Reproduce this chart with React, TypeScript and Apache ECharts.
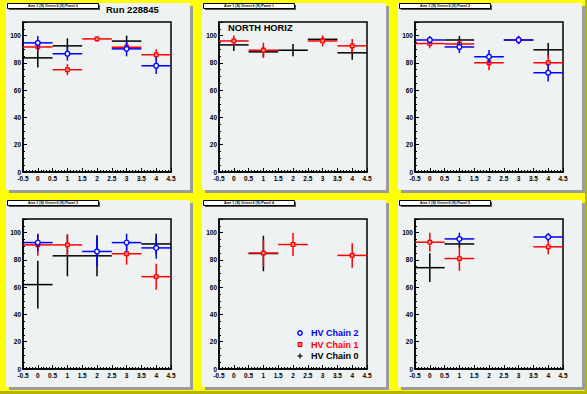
import React, { useEffect, useRef } from "react";
import * as echarts from "echarts";

const bins = [0, 1, 2, 3, 4];
const panelTitles = [
  "Arm 1 (S) Orient 6 (S) Panel 0",
  "Arm 1 (S) Orient 6 (S) Panel 1",
  "Arm 1 (S) Orient 6 (S) Panel 2",
  "Arm 1 (S) Orient 6 (S) Panel 3",
  "Arm 1 (S) Orient 6 (S) Panel 4",
  "Arm 1 (S) Orient 6 (S) Panel 5",
];
const seriesNames = ["HV Chain 2", "HV Chain 1", "HV Chain 0"];
const runLabel = "Run 228845";
const sideLabel = "NORTH HORIZ";
const yTicks = [0, 20, 40, 60, 80, 100];
const xTicks = [-0.5, 0, 0.5, 1, 1.5, 2, 2.5, 3, 3.5, 4, 4.5];

const chain2Values: (number | null)[][] = [
  [94.7, 86.7, null, 90.3, 77.9],
  [null, null, null, null, null],
  [96.8, 91.7, 84.5, 96.8, 72.8],
  [92.7, null, 86.2, 92.7, 88.8],
  [null, null, null, null, null],
  [null, 95.4, null, null, 96.8],
];
const chain2Errors: number[][] = [
  [5, 5, 0, 5.5, 6],
  [0, 0, 0, 0, 0],
  [3, 4.5, 5, 3, 6.5],
  [6.5, 0, 11, 6.5, 8],
  [0, 0, 0, 0, 0],
  [0, 4.5, 0, 0, 3],
];
const chain1Values: (number | null)[][] = [
  [91.7, 75, 97.6, 91.5, 86],
  [96.1, 89.3, null, 96.1, 92.5],
  [94.2, 93.9, 80.1, 96.8, 80.1],
  [91, 91, null, 84.5, 67.7],
  [null, 85, 91.3, null, 83.3],
  [93, 81, null, null, 89.6],
];
const chain1Errors: number[][] = [
  [3, 4, 2, 3, 4],
  [4, 5.5, 0, 4, 5],
  [3.5, 3, 5.5, 3, 6],
  [8, 8, 0, 8, 9.5],
  [0, 10, 8.5, 0, 9],
  [7, 9, 0, 0, 5.5],
];
const chain0Values: (number | null)[][] = [
  [83.7, 92.5, null, 96, null],
  [93.2, 88.1, 89.3, 97.3, 87.4],
  [null, 96.8, null, null, 89.6],
  [61.9, 83, 83, null, 91.7],
  [null, 84.7, null, null, null],
  [74.3, 91.7, null, null, null],
];
const chain0Errors: number[][] = [
  [7, 5.5, 0, 4, 0],
  [4.5, 4, 4.5, 2, 5],
  [0, 3, 0, 0, 5],
  [17.5, 15, 15, 0, 7.5],
  [0, 13, 0, 0, 0],
  [10.5, 3, 0, 0, 0],
];

const PAD_BG = "#eef2f2";
const YELLOW = "#ffff00";
const FONT = "Liberation Sans, Arial, Helvetica, sans-serif";
const padX = [0, 196, 392];
const padY = [0, 197];

function makeRender(kind: number) {
  const color = kind === 2 ? "#0000ff" : kind === 1 ? "#ff0000" : "#000000";
  return (params: any, api: any) => {
    const x = api.value(0);
    const y = api.value(1);
    const e = api.value(2);
    const c = api.coord([x, y]);
    const l = api.coord([x - 0.5, y]);
    const r = api.coord([x + 0.5, y]);
    const t = api.coord([x, y + e]);
    const b = api.coord([x, y - e]);
    const st = { stroke: color, lineWidth: 1.5 };
    const children: any[] = [
      { type: "line", shape: { x1: l[0], y1: l[1], x2: r[0], y2: r[1] }, style: st },
      { type: "line", shape: { x1: t[0], y1: t[1], x2: b[0], y2: b[1] }, style: st },
    ];
    if (kind === 2) {
      children.push({
        type: "circle",
        shape: { cx: c[0], cy: c[1], r: 2.4 },
        style: { fill: PAD_BG, stroke: color, lineWidth: 1.4 },
      });
    } else if (kind === 1) {
      children.push({
        type: "rect",
        shape: { x: c[0] - 1.8, y: c[1] - 1.8, width: 3.6, height: 3.6 },
        style: { fill: "#ff9090", stroke: color, lineWidth: 1.2 },
      });
    }
    return { type: "group", children };
  };
}

function toData(vals: (number | null)[], errs: number[]) {
  const out: number[][] = [];
  bins.forEach((b, i) => {
    const v = vals[i];
    if (v !== null && v !== undefined) out.push([b, v, errs[i]]);
  });
  return out;
}

export default function App() {
  const ref = useRef<HTMLDivElement>(null);
  useEffect(() => {
    if (!ref.current) return;
    const chart = echarts.init(ref.current, undefined, { renderer: "svg" });
    const grids: any[] = [];
    const xAxes: any[] = [];
    const yAxes: any[] = [];
    const series: any[] = [];
    const graphics: any[] = [];

    graphics.push({ type: "rect", z: -20, shape: { x: 0, y: 391, width: 587, height: 3 }, style: { fill: "#b4b400" } });
    graphics.push({ type: "rect", z: -20, shape: { x: 585, y: 0, width: 2, height: 394 }, style: { fill: "#b4b400" } });

    for (let p = 0; p < 6; p++) {
      const col = p % 3;
      const row = Math.floor(p / 3);
      const x0 = padX[col];
      const y0 = padY[row];
      graphics.push({ type: "rect", z: -10, shape: { x: x0 + 9, y: y0 + 6, width: 184, height: 187 }, style: { fill: "#9c9c9c" } });
      graphics.push({ type: "rect", z: -9, shape: { x: x0 + 6, y: y0 + 3, width: 184, height: 187 }, style: { fill: PAD_BG } });
      graphics.push({ type: "rect", z: -8, shape: { x: x0 + 9, y: y0 + 5, width: 91, height: 5 }, style: { fill: "#555" } });
      graphics.push({ type: "rect", z: -7, shape: { x: x0 + 7.5, y: y0 + 3.5, width: 91, height: 5 }, style: { fill: "#ffffff", stroke: "#000", lineWidth: 1 } });
      graphics.push({
        type: "text", z: 50, x: x0 + 53, y: y0 + 6.2,
        style: { text: panelTitles[p], fontSize: 3.6, fontWeight: "bold", fontFamily: FONT, fill: "#000", align: "center", verticalAlign: "middle" },
      });

      grids.push({
        left: x0 + 23, top: y0 + 22, width: 148, height: 150,
        show: true, backgroundColor: "transparent", borderColor: "#000", borderWidth: 1.5,
      });
      xAxes.push({
        type: "value", gridIndex: p, min: xTicks[0], max: xTicks[xTicks.length - 1], interval: 0.5,
        axisLine: { show: true, onZero: false, lineStyle: { color: "#000", width: 1.5 } },
        axisTick: { show: true, inside: true, length: 4, lineStyle: { color: "#000", width: 1 } },
        minorTick: { show: true, splitNumber: 5, length: 2, lineStyle: { color: "#000", width: 1 } },
        splitLine: { show: false },
        axisLabel: { show: true, margin: 3, fontSize: 6.5, fontWeight: "bold", fontFamily: FONT, color: "#000", showMinLabel: true, showMaxLabel: true },
      });
      yAxes.push({
        type: "value", gridIndex: p, min: 0, max: 110, interval: 20,
        axisLine: { show: true, onZero: false, lineStyle: { color: "#000", width: 1.5 } },
        axisTick: { show: true, inside: true, length: 4, lineStyle: { color: "#000", width: 1 } },
        minorTick: { show: true, splitNumber: 4, length: 2, lineStyle: { color: "#000", width: 1 } },
        splitLine: { show: false },
        axisLabel: {
          show: true, margin: 2, fontSize: 6.5, fontWeight: "bold", fontFamily: FONT, color: "#000",
          showMaxLabel: false,
          formatter: (v: number) => (yTicks.indexOf(v) >= 0 ? String(v) : ""),
        },
      });

      const sets = [
        { kind: 0, vals: chain0Values[p], errs: chain0Errors[p] },
        { kind: 1, vals: chain1Values[p], errs: chain1Errors[p] },
        { kind: 2, vals: chain2Values[p], errs: chain2Errors[p] },
      ];
      sets.forEach((s) => {
        series.push({
          type: "custom",
          name: seriesNames[2 - s.kind],
          xAxisIndex: p, yAxisIndex: p,
          renderItem: makeRender(s.kind),
          data: toData(s.vals, s.errs),
          clip: true,
          z: 3 + s.kind,
        });
      });
    }

    graphics.push({
      type: "text", z: 50, x: 106, y: 9,
      style: { text: runLabel, fontSize: 9.5, fontWeight: "bold", fontFamily: FONT, fill: "#000", verticalAlign: "middle" },
    });
    graphics.push({
      type: "text", z: 50, x: 228, y: 28,
      style: { text: sideLabel, fontSize: 9.3, fontWeight: "bold", fontFamily: FONT, fill: "#000", verticalAlign: "middle" },
    });

    const lx = 300;
    const ly = [333, 344.5, 356];
    const lc = ["#0000ff", "#ff0000", "#000000"];
    graphics.push({ type: "circle", z: 50, shape: { cx: lx, cy: ly[0], r: 2.2 }, style: { fill: PAD_BG, stroke: lc[0], lineWidth: 1.4 } });
    graphics.push({ type: "rect", z: 50, shape: { x: lx - 1.8, y: ly[1] - 1.8, width: 3.6, height: 3.6 }, style: { fill: "#ff9090", stroke: lc[1], lineWidth: 1.2 } });
    graphics.push({ type: "line", z: 50, shape: { x1: lx - 2.5, y1: ly[2], x2: lx + 2.5, y2: ly[2] }, style: { stroke: lc[2], lineWidth: 1.2 } });
    graphics.push({ type: "line", z: 50, shape: { x1: lx, y1: ly[2] - 2.5, x2: lx, y2: ly[2] + 2.5 }, style: { stroke: lc[2], lineWidth: 1.2 } });
    seriesNames.forEach((n, i) => {
      graphics.push({
        type: "text", z: 50, x: 311, y: ly[i],
        style: { text: n, fontSize: 9, fontWeight: "bold", fontFamily: FONT, fill: lc[i], verticalAlign: "middle" },
      });
    });

    chart.setOption({
      animation: false,
      backgroundColor: YELLOW,
      grid: grids,
      xAxis: xAxes,
      yAxis: yAxes,
      series,
      graphic: { elements: graphics },
    });
    return () => chart.dispose();
  }, []);
  return (
    <div
      ref={ref}
      style={{ position: "fixed", left: 0, top: 0, width: 587, height: 394 }}
    />
  );
}
